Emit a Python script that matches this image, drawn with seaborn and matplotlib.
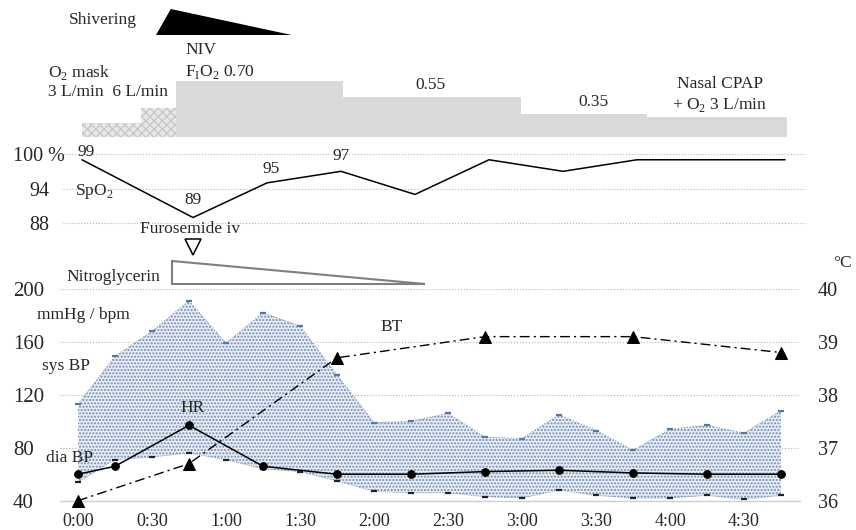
import numpy as np
import matplotlib
matplotlib.use('Agg')
import matplotlib.pyplot as plt
import seaborn as sns

# time in minutes from arrival
bp_time = [0, 15, 30, 45, 60, 75, 90, 105, 120, 135, 150, 165, 180, 195, 210, 225, 240, 255, 270, 285]
sys_bp = [113, 149, 168, 191, 159, 182, 172, 135, 99, 100, 106, 88, 87, 105, 93, 78, 94, 97, 91, 108]
dia_bp = [54, 71, 73, 76, 71, 64, 62, 55, 47, 46, 46, 43, 42, 48, 44, 42, 42, 44, 41, 44]

hr_time = [0, 15, 45, 75, 105, 135, 165, 195, 225, 255, 285]
hr = [60, 66, 97, 66, 60, 60, 62, 63, 61, 60, 60]

bt_time = [0, 45, 105, 165, 225, 285]
bt = [36.0, 36.7, 38.7, 39.1, 39.1, 38.8]

spo2_time = [0, 45, 75, 105, 135, 165, 195, 225, 285]
spo2 = [99, 89, 95, 97, 93, 99, 97, 99, 99]

# oxygen therapy steps (start/end minutes, relative level)
o2_edges = [0, 24, 38, 106, 178, 229, 286]
o2_level = [14, 29, 56, 40, 23, 20]

shiver_time = [30, 36, 85]
shiver_int = [0, 1, 0]

nitro_time = [36.5, 36.5, 139]
nitro_dose = [1, 0, 0]
furo_time = 45

time_ticks = [0, 30, 60, 90, 120, 150, 180, 210, 240, 270]
time_labels = ['0:00', '0:30', '1:00', '1:30', '2:00', '2:30', '3:00', '3:30', '4:00', '4:30']

sns.set_theme(style='white')
plt.rcParams['font.family'] = ['Liberation Serif', 'DejaVu Serif']
plt.rcParams['mathtext.fontset'] = 'custom'
plt.rcParams['mathtext.rm'] = 'Liberation Serif'
plt.rcParams['hatch.linewidth'] = 1.0

W, H = 856, 530
fig = plt.figure(figsize=(8.56, 5.30), dpi=100)


def rect(x0, y0, x1, y1):
    return [x0 / W, 1 - y1 / H, (x1 - x0) / W, (y1 - y0) / H]


def ptxt(x, y, s, **kw):
    kw.setdefault('fontsize', 12.5)
    kw.setdefault('va', 'center')
    fig.text(x / W, 1 - y / H, s, **kw)


top_xlim = (-7.7, 293.5)

# shivering
ax_sh = fig.add_axes(rect(63, 9, 806, 35))
ax_sh.fill(shiver_time, shiver_int, color='black', lw=0)
ax_sh.set_xlim(top_xlim)
ax_sh.set_ylim(0, 1)
ax_sh.axis('off')

# oxygen therapy
ax_o = fig.add_axes(rect(63, 40, 806, 137))
widths = np.diff(o2_edges)
bars = ax_o.bar(o2_edges[:-1], o2_level, width=widths, align='edge', color='#d9d9d9', lw=0)
for b in bars[:2]:
    b.set_facecolor('#e8e8e8')
    b.set_edgecolor('#c8c8c8')
    b.set_hatch('xxxx')
ax_o.set_xlim(top_xlim)
ax_o.set_ylim(0, 97)
ax_o.axis('off')

# SpO2
ax_s = fig.add_axes(rect(63, 144, 806, 233))
sns.lineplot(x=spo2_time, y=spo2, ax=ax_s, color='black', lw=1.1)
ax_s.set_xlim(top_xlim)
ax_s.set_ylim(86.32, 101.73)
ax_s.set_yticks([88, 94, 100])
ax_s.set_yticklabels(['88', '94', '100 %'], fontsize=14.5)
for t in ax_s.get_yticklabels():
    t.set_ha('center')
ax_s.tick_params(axis='y', length=0, pad=17)
ax_s.set_xticks([])
ax_s.yaxis.grid(True, ls=':', color='#b5b5b5', lw=0.8)
for sp in ax_s.spines.values():
    sp.set_visible(False)
ax_s.set_xlabel('')
spo2_offsets = [(4, 8), (0, 18), (4, 14), (0, 15)]
for i, (dx, dy) in enumerate(spo2_offsets):
    ax_s.annotate(str(spo2[i]), (spo2_time[i], spo2[i]), xytext=(dx * 0.72, dy * 0.72),
                  textcoords='offset points', ha='center', va='center', fontsize=12.5)

# nitroglycerin / furosemide
ax_n = fig.add_axes(rect(63, 261, 806, 284))
ax_n.fill(nitro_time, nitro_dose, facecolor='white', edgecolor='#7f7f7f', lw=1.5, clip_on=False)
ax_n.plot([furo_time], [1.59], marker='v', ms=12, mfc='white', mec='black', mew=1.1, clip_on=False)
ax_n.set_xlim(top_xlim)
ax_n.set_ylim(0, 1)
ax_n.axis('off')

# vital signs
ax = fig.add_axes(rect(60, 289, 800, 500.7))
ax.fill_between(bp_time, dia_bp, sys_bp, facecolor='#e8edf4', edgecolor='#6f8cb5',
                hatch='.....', lw=0, zorder=1)
ax.plot(bp_time, sys_bp, ls=':', color='#7d98bd', lw=0.8, marker='_', ms=4, mew=1.6,
        mec='#5477a8', zorder=2)
ax.plot(bp_time, dia_bp, ls=':', color='#808080', lw=0.6, marker='_', ms=5, mew=1.6,
        mec='#222222', zorder=2)
sns.lineplot(x=hr_time, y=hr, ax=ax, color='black', lw=1.1, marker='o', markersize=5.5,
             markeredgecolor='black', zorder=3)
ax.set_xlim(-7.3, 292.7)
ax.set_ylim(40, 200)
ax.set_yticks([40, 80, 120, 160, 200])
ax.tick_params(axis='y', length=0, pad=34, labelsize=15)
for t in ax.get_yticklabels():
    t.set_ha('left')
ax.set_xticks(time_ticks)
ax.set_xticklabels(time_labels)
ax.tick_params(axis='x', length=0, pad=9, labelsize=13)
ax.yaxis.grid(True, ls=':', color='#b5b5b5', lw=0.8)
for sp in ['top', 'left', 'right']:
    ax.spines[sp].set_visible(False)
ax.spines['bottom'].set_color('#cfcfcf')
ax.spines['bottom'].set_linewidth(1.0)
ax.set_axisbelow(True)

ax2 = ax.twinx()
sns.lineplot(x=bt_time, y=bt, ax=ax2, color='black', lw=1.0, marker='^', markersize=8,
             markeredgecolor='black', zorder=3)
bt_line = ax2.lines[-1]
bt_line.set_linestyle((0, (7, 3, 1.5, 3)))
bt_line.set_clip_on(False)
ax2.set_ylim(36, 40)
ax2.set_yticks([36, 37, 38, 39, 40])
ax2.tick_params(axis='y', length=0, pad=13, labelsize=14.5)
for sp in ax2.spines.values():
    sp.set_visible(False)
ax2.set_xlim(-7.3, 292.7)
ax.set_xlabel('')
ax.set_ylabel('')
ax2.set_ylabel('')

# text labels
ptxt(69, 20, 'Shivering')
ptxt(185, 50, 'NIV')
ptxt(185, 72, r'F$_\mathregular{I}$O$_\mathregular{2}$ 0.70')
ptxt(48, 72, r'O$_\mathregular{2}$ mask')
ptxt(48, 92, '3 L/min  6 L/min')
ptxt(430, 85, '0.55', ha='center')
ptxt(593, 102, '0.35', ha='center')
ptxt(720, 84, 'Nasal CPAP', ha='center')
ptxt(720, 105, r'+ O$_\mathregular{2}$ 3 L/min', ha='center')
ptxt(75, 192, r'SpO$_\mathregular{2}$')
ptxt(190, 229, 'Furosemide iv', ha='center')
ptxt(66, 277, 'Nitroglycerin')
ptxt(842, 263, '°C', ha='center')
ptxt(37, 315, 'mmHg / bpm')
ptxt(42, 366, 'sys BP')
ptxt(193, 408, 'HR', ha='center')
ptxt(46, 458, 'dia BP')
ptxt(392, 327, 'BT', ha='center')

fig.savefig('out.png', dpi=100)
